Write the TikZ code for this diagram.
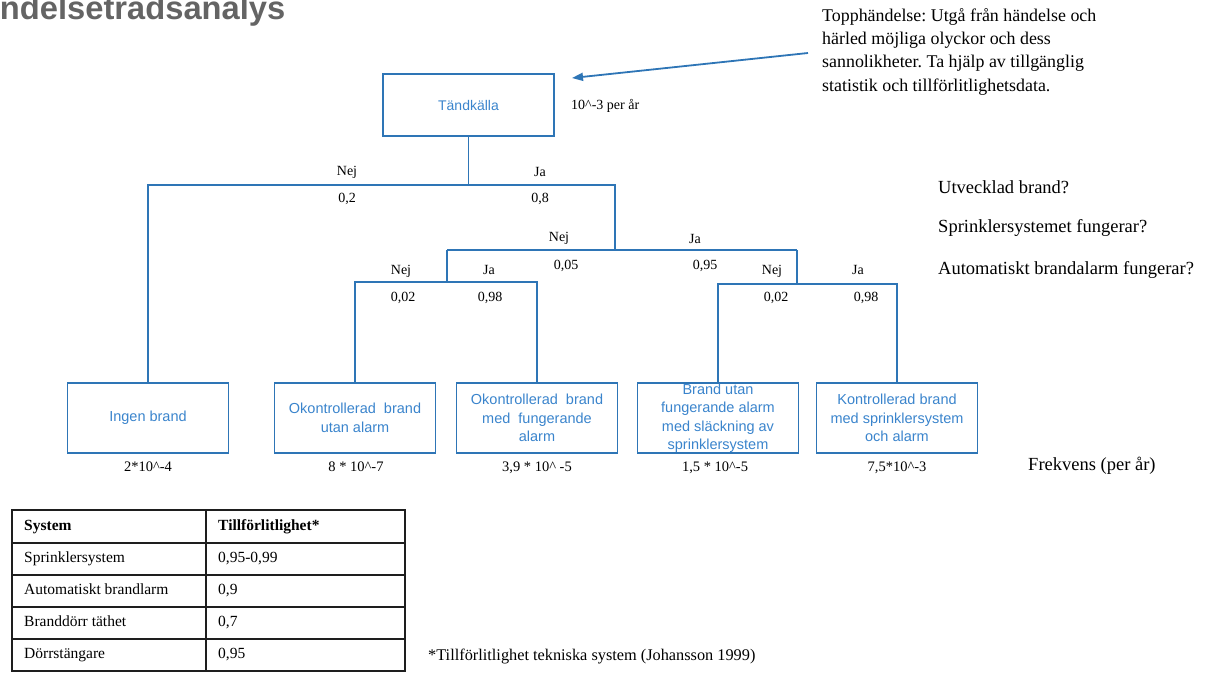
\documentclass[tikz,border=0pt]{standalone}
\usepackage{fontspec}
\setmainfont{Liberation Serif}
\newfontfamily\arial{Liberation Sans}
\usetikzlibrary{arrows.meta}
\definecolor{treeblue}{RGB}{46,117,182}
\definecolor{textblue}{RGB}{58,132,204}
\definecolor{titlegray}{RGB}{100,100,100}
\definecolor{gridblack}{RGB}{30,30,30}
\frenchspacing
\begin{document}
\begin{tikzpicture}[x=1pt,y=-1pt,
  tree/.style={draw=treeblue, line width=1.9pt},
  evbox/.style={draw=treeblue, line width=1.9pt, minimum width=161pt, minimum height=70pt, inner sep=0pt},
  boxtext/.style={text=textblue, font=\arial\fontsize{14.5}{18.5}\selectfont, align=center, inner sep=0pt},
  lab/.style={font=\fontsize{14}{16}\selectfont, inner sep=0pt, text height=10pt, text depth=3pt},
  freq/.style={font=\fontsize{14.5}{16}\selectfont, inner sep=0pt, text height=10pt, text depth=3pt},
  question/.style={font=\fontsize{18.5}{22}\selectfont, anchor=west, inner sep=0pt, text height=13pt, text depth=4pt},
  cell/.style={font=\fontsize{15.5}{18}\selectfont, anchor=west, inner sep=0pt, text height=11pt, text depth=3.5pt},
  grid/.style={draw=gridblack, line width=1.5pt},
  pointer/.style={draw=treeblue, line width=1.8pt, -{Triangle[length=11pt,width=8pt]}}]
\useasboundingbox (0,0) rectangle (1209,673);

% heading, partly above the page edge
\node[anchor=base west, inner sep=0pt, text=titlegray,
      font=\arial\bfseries\fontsize{32.7}{36}\selectfont] (title) at (-42,19) {Händelseträdsanalys};

% initiating event
\node[evbox, minimum width=171pt, minimum height=62pt, text=textblue,
      font=\arial\fontsize{14}{17}\selectfont] (top) at (468.5,105) {Tändkälla};
\node[lab, anchor=west] (rate) at (571,106) {10\textasciicircum-3 per år};

% explanatory note with pointer
\node[anchor=north west, align=left, inner sep=0pt,
      font=\fontsize{17.9}{23.4}\selectfont] (note) at (822,8)
  {Topphändelse: Utgå från händelse och\\härled möjliga olyckor och dess\\sannolikheter. Ta hjälp av tillgänglig\\statistik och tillförlitlighetsdata.};
\coordinate (tip) at (572,78);
\coordinate (tail) at (808,53);
\draw[pointer] (tail) -- (tip);

% outcome boxes
\node[evbox] (ingen) at (148,418) {};
\node[evbox] (okutan) at (355,418) {};
\node[evbox] (okmed) at (537,418) {};
\node[evbox] (brand) at (718,418) {};
\node[evbox] (kontr) at (897,418) {};
\node[boxtext] (ingen-t) at (ingen.center) {Ingen brand};
\node[boxtext] (okutan-t) at (okutan.center) {Okontrollerad\ \ brand\\utan alarm};
\node[boxtext] (okmed-t) at (okmed.center) {Okontrollerad\ \ brand\\med\ \ fungerande\\alarm};
\node[boxtext] (brand-t) at (brand.center) {Brand utan\\fungerande\ alarm\\med\ släckning\ av\\sprinklersystem};
\node[boxtext] (kontr-t) at (kontr.center) {Kontrollerad\ brand\\med sprinklersystem\\och alarm};

% branch points
\coordinate (r1) at (615,185);
\coordinate (n2) at (447,250);
\coordinate (j2) at (797,250);
\coordinate (l3) at (537,282);
\coordinate (r3) at (897,284);

% tree branches
\draw[tree] (top.south) -- (top.south |- r1);
\draw[tree] (ingen.north) |- (r1) -- (r1 |- n2);
\draw[tree] (n2) -- (j2);
\draw[tree] (n2) -- (n2 |- l3);
\draw[tree] (okutan.north) |- (l3) -- (okmed.north);
\draw[tree] (j2) -- (j2 |- r3);
\draw[tree] (brand.north) |- (r3) -- (kontr.north);

% branch labels
\node[lab] (l1n) at (347,172) {Nej};
\node[lab] (l1j) at (540,173) {Ja};
\node[lab] (p1n) at (347,199) {0,2};
\node[lab] (p1j) at (540,199) {0,8};
\node[lab] (l2n) at (559,238) {Nej};
\node[lab] (l2j) at (695,240) {Ja};
\node[lab] (p2n) at (566,266) {0,05};
\node[lab] (p2j) at (705,266) {0,95};
\node[lab] (l3n) at (401,271) {Nej};
\node[lab] (l3j) at (489,271) {Ja};
\node[lab] (p3n) at (403,298) {0,02};
\node[lab] (p3j) at (490,298) {0,98};
\node[lab] (l4n) at (772,271) {Nej};
\node[lab] (l4j) at (858,271) {Ja};
\node[lab] (p4n) at (776,298) {0,02};
\node[lab] (p4j) at (866,298) {0,98};

% questions per level
\node[question] (q1) at (938,189) {Utvecklad brand?};
\node[question] (q2) at (938,228) {Sprinklersystemet fungerar?};
\node[question] (q3) at (938,270) {Automatiskt brandalarm fungerar?};

% frequencies
\node[freq] (f1) at (148,468) {2*10\textasciicircum-4};
\node[freq] (f2) at (356,468) {8 * 10\textasciicircum-7};
\node[freq] (f3) at (537,468) {3,9 * 10\textasciicircum\ -5};
\node[freq] (f4) at (715,468) {1,5 * 10\textasciicircum-5};
\node[freq] (f5) at (897,468) {7,5*10\textasciicircum-3};
\node[question] (fq) at (1028,466) {Frekvens (per år)};

% reliability table
\draw[grid] (12,510) rectangle (405,671);
\foreach \y in {543,575,607,639} \draw[grid] (12,\y) -- (405,\y);
\draw[grid] (206,510) -- (206,671);
\node[cell, font=\bfseries\fontsize{15.5}{18}\selectfont] (h1) at (24,526.5) {System};
\node[cell, font=\bfseries\fontsize{15.5}{18}\selectfont] (h2) at (218,526.5) {Tillförlitlighet*};
\node[cell] (a1) at (24,559) {Sprinklersystem};
\node[cell] (b1) at (218,559) {0,95-0,99};
\node[cell] (a2) at (24,591) {Automatiskt brandlarm};
\node[cell] (b2) at (218,591) {0,9};
\node[cell] (a3) at (24,623) {Branddörr täthet};
\node[cell] (b3) at (218,623) {0,7};
\node[cell] (a4) at (24,655) {Dörrstängare};
\node[cell] (b4) at (218,655) {0,95};

\node[anchor=west, inner sep=0pt, font=\fontsize{16.3}{19}\selectfont,
      text height=11.5pt, text depth=4pt] (src) at (428,657)
  {*Tillförlitlighet tekniska system (Johansson 1999)};
\end{tikzpicture}
\end{document}
